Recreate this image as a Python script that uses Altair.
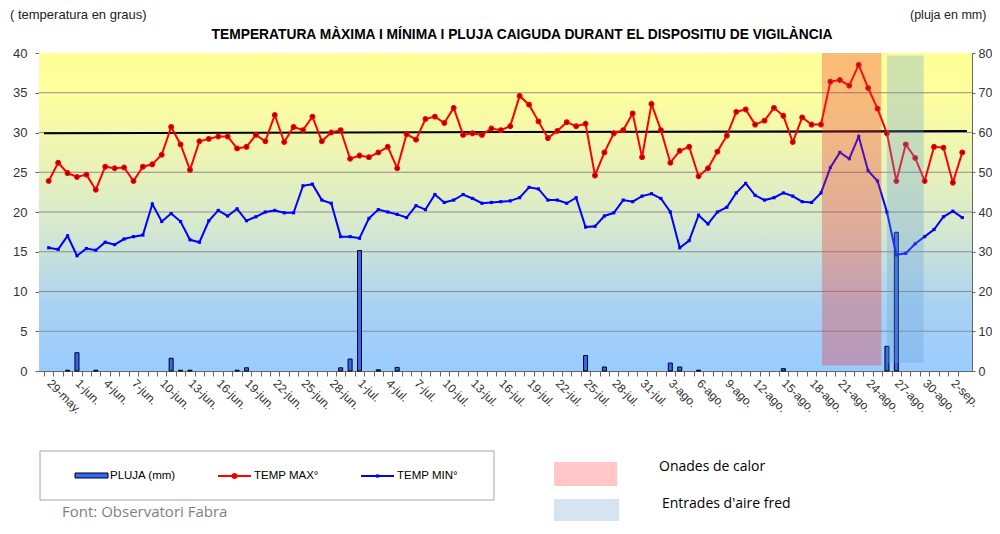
import altair as alt
import pandas as pd

# ---------------- data ----------------
tmax = [23.9, 26.2, 24.9, 24.4, 24.7, 22.8, 25.7, 25.5, 25.6, 23.9,
        25.7, 26.0, 27.2, 30.7, 28.5, 25.3, 28.9, 29.2, 29.5, 29.5,
        28.0, 28.2, 29.7, 28.9, 32.2, 28.8, 30.7, 30.3, 32.0, 28.9,
        30.0, 30.3, 26.7, 27.1, 26.9, 27.5, 28.2, 25.5, 29.8, 29.1,
        31.7, 32.0, 31.2, 33.1, 29.7, 29.9, 29.7, 30.5, 30.3, 30.8,
        34.6, 33.5, 31.4, 29.3, 30.2, 31.3, 30.8, 31.1, 24.6, 27.5,
        29.9, 30.3, 32.4, 26.9, 33.6, 30.3, 26.2, 27.7, 28.2, 24.5,
        25.5, 27.6, 29.6, 32.6, 32.9, 31.0, 31.5, 33.1, 32.1, 28.8,
        31.9, 31.0, 31.0, 36.4, 36.6, 35.9, 38.5, 35.6, 33.0, 29.9,
        23.9, 28.5, 26.8, 23.9, 28.2, 28.1, 23.7, 27.5]

tmin = [15.5, 15.3, 17.0, 14.5, 15.4, 15.2, 16.2, 15.9, 16.6, 16.9,
        17.1, 21.0, 18.8, 19.8, 18.8, 16.5, 16.2, 18.9, 20.2, 19.5,
        20.4, 18.9, 19.4, 20.0, 20.2, 19.9, 19.9, 23.3, 23.5, 21.5,
        21.1, 16.9, 16.9, 16.7, 19.2, 20.3, 20.0, 19.7, 19.3, 20.8,
        20.3, 22.2, 21.2, 21.5, 22.2, 21.7, 21.1, 21.2, 21.3, 21.4,
        21.8, 23.1, 22.9, 21.5, 21.5, 21.1, 21.8, 18.1, 18.2, 19.5,
        19.9, 21.5, 21.3, 22.0, 22.3, 21.7, 20.0, 15.5, 16.4, 19.6,
        18.5, 20.0, 20.6, 22.4, 23.6, 22.1, 21.5, 21.8, 22.4, 22.0,
        21.3, 21.2, 22.4, 25.6, 27.5, 26.7, 29.5, 25.2, 23.9, 20.0,
        14.6, 14.8, 16.0, 16.9, 17.8, 19.4, 20.1, 19.3]

rain = [0, 0, 0.2, 4.6, 0, 0.2, 0, 0, 0, 0,
        0, 0, 0, 3.2, 0.2, 0.2, 0, 0, 0, 0,
        0.2, 0.8, 0, 0, 0, 0, 0, 0, 0, 0,
        0, 0.8, 3.0, 30.3, 0, 0.3, 0, 0.9, 0, 0,
        0, 0, 0, 0, 0, 0, 0, 0, 0, 0,
        0, 0, 0, 0, 0, 0, 0, 3.9, 0, 1.0,
        0, 0, 0, 0, 0, 0, 2.0, 1.0, 0, 0.2,
        0, 0, 0, 0, 0, 0, 0, 0, 0.6, 0,
        0, 0, 0, 0, 0, 0, 0, 0, 0, 6.2,
        34.9, 0, 0, 0, 0, 0, 0, 0]

tick_labels = ["29-may.", "1-jun.", "4-jun.", "7-jun.", "10-jun.", "13-jun.",
               "16-jun.", "19-jun.", "22-jun.", "25-jun.", "28-jun.", "1-jul.",
               "4-jul.", "7-jul.", "10-jul.", "13-jul.", "16-jul.", "19-jul.",
               "22-jul.", "25-jul.", "28-jul.", "31-jul.", "3-ago.", "6-ago.",
               "9-ago.", "12-ago.", "15-ago.", "18-ago.", "21-ago.", "24-ago.",
               "27-ago.", "30-ago.", "2-sep."]

temp_ticks = [0, 5, 10, 15, 20, 25, 30, 35, 40]
rain_ticks = [0, 10, 20, 30, 40, 50, 60, 70, 80]
grid_values = [5, 10, 15, 20, 25, 30, 35]
ref_line = [29.9, 30.2]               # black reference line, start / end
heat_wave = [82.1, 88.4, 0.7, 40.0]   # day start, day end, temp low, temp high
cold_air = [89.0, 92.9, 1.0, 39.7]

# ---------------- layout ----------------
W, H = 933, 318
n = len(tmax)
half = W / n / 2
FONT = "Liberation Sans"

df = pd.DataFrame({"d": list(range(n)), "tmax": tmax, "tmin": tmin, "rain": rain})
rain_df = df[df["rain"] > 0]

xs = alt.Scale(domain=[-0.5, n - 0.5], nice=False, zero=False)
ts = alt.Scale(domain=[0, 40], nice=False)
rs = alt.Scale(domain=[0, 80], nice=False)

label_arr = "[" + ",".join("'" + s + "'" for s in tick_labels) + "]"
x_axis = alt.Axis(
    values=list(range(n)), tickOffset=-half, labelOffset=half,
    labelExpr=f"datum.value % 3 === 0 ? {label_arr}[datum.value / 3] : ''",
    labelAngle=45, labelAlign="left", labelBaseline="middle",
    labelPadding=5, labelFlush=False, labelOverlap=False,
    labelFont=FONT, labelFontSize=12, labelColor="#333333",
    tickSize=5, tickColor="#666666", domainColor="#666666",
    grid=False, title=None)

left_axis = alt.Axis(values=temp_ticks, orient="left", title=None, grid=False,
                     labelFont=FONT, labelFontSize=13, labelColor="#333333",
                     tickSize=4, tickColor="#666666", domainColor="#666666",
                     labelPadding=8)
right_axis = alt.Axis(values=rain_ticks, orient="right", title=None, grid=False,
                      labelFont=FONT, labelFontSize=12.5, labelColor="#333333",
                      tickSize=3, tickColor="#666666", domainColor="#666666",
                      labelPadding=3)


def X(field):
    return alt.X(field, type="quantitative", scale=xs, axis=x_axis)


def one():
    return alt.Chart(alt.Data(values=[{"a": 1}]))


def txt(text, x, y, size=12, align="left", baseline="middle", **kw):
    return one().mark_text(text=text, align=align, baseline=baseline,
                           fontSize=size, **kw).encode(x=alt.value(x), y=alt.value(y))


def box(x1, x2, y1, y2, **kw):
    return one().mark_rect(**kw).encode(x=alt.value(x1), x2=alt.value(x2),
                                        y=alt.value(y1), y2=alt.value(y2))


gradient = alt.LinearGradient(
    gradient="linear", x1=0, x2=0, y1=0, y2=1,
    stops=[alt.GradientStop(offset=0, color="#ffff99"),
           alt.GradientStop(offset=0.12, color="#ffff9c"),
           alt.GradientStop(offset=0.55, color="#d6e8cf"),
           alt.GradientStop(offset=0.8, color="#a8d2f4"),
           alt.GradientStop(offset=1, color="#99ccff")])

bg = box(0, W, 0, H, fill=gradient)

grid = alt.Chart(pd.DataFrame({"t": grid_values})).mark_rule(
    color="#8c8c8c", strokeWidth=1).encode(
    y=alt.Y("t:Q", scale=ts, axis=None), x=alt.value(0), x2=alt.value(W))

ref = alt.Chart(pd.DataFrame({"d": [-0.5, n - 0.5], "t": ref_line})).mark_line(
    color="#000000", strokeWidth=2).encode(
    x=X("d"), y=alt.Y("t:Q", scale=ts, axis=None))

bars = alt.Chart(rain_df).mark_bar(width=4, fill="#3366ff", stroke="#000000",
                                   strokeWidth=1).encode(
    x=X("d"), y=alt.Y("rain:Q", scale=rs, axis=right_axis))

red_line = alt.Chart(df).mark_line(color="#ff0000", strokeWidth=2).encode(
    x=X("d"), y=alt.Y("tmax:Q", scale=ts, axis=left_axis))
red_pts = alt.Chart(df).mark_point(filled=True, fill="#9a0000", stroke="#ff0000",
                                   strokeWidth=1.2, size=22, opacity=1).encode(
    x=X("d"), y=alt.Y("tmax:Q", scale=ts, axis=None))
blue_line = alt.Chart(df).mark_line(color="#0000ff", strokeWidth=2).encode(
    x=X("d"), y=alt.Y("tmin:Q", scale=ts, axis=None))
blue_pts = alt.Chart(df).mark_point(filled=True, shape="square", color="#0000ff",
                                    size=10, opacity=1).encode(
    x=X("d"), y=alt.Y("tmin:Q", scale=ts, axis=None))


def band(vals, color, op):
    d = pd.DataFrame({"x1": [vals[0]], "x2": [vals[1]], "y1": [vals[2]], "y2": [vals[3]]})
    return alt.Chart(d).mark_rect(fill=color, opacity=op).encode(
        x=X("x1"), x2="x2:Q",
        y=alt.Y("y1:Q", scale=ts, axis=None), y2="y2:Q")


heat = band(heat_wave, "#ee3030", 0.32)
cold = band(cold_air, "#649fdc", 0.3)

# ---------------- texts & manual legend ----------------
title = txt("TEMPERATURA  MÀXIMA  I MÍNIMA  I  PLUJA  CAIGUDA  DURANT  EL  DISPOSITIU  DE  VIGILÀNCIA",
            483, -18, size=13.8, align="center", font=FONT, fontWeight="bold", color="#000000")
ylab_l = txt("( temperatura  en  graus)", -29, -38, size=13, font=FONT, color="#222222")
ylab_r = txt("(pluja en mm)", 871, -38, size=12.5, font=FONT, color="#222222")

LY = 423
leg_box = box(1, 455, 398, 447, fill="#ffffff", stroke="#a6a6a6", strokeWidth=1)
leg_bar = box(36, 69, LY - 3, LY + 2, fill="#3366ff", stroke="#000000", strokeWidth=1)
leg_bar_t = txt("PLUJA (mm)", 71, LY, size=11.5, font=FONT, color="#000000")
leg_red = one().mark_rule(color="#ff0000", strokeWidth=2).encode(
    x=alt.value(179), x2=alt.value(212), y=alt.value(LY))
leg_red_p = one().mark_point(filled=True, fill="#9a0000", stroke="#ff0000", size=16,
                             opacity=1).encode(x=alt.value(195.5), y=alt.value(LY))
leg_red_t = txt("TEMP MAX°", 215, LY, size=11.5, font=FONT, color="#000000")
leg_blue = one().mark_rule(color="#0000ff", strokeWidth=2).encode(
    x=alt.value(322), x2=alt.value(355), y=alt.value(LY))
leg_blue_p = one().mark_point(filled=True, shape="square", color="#0000ff", size=10,
                              opacity=1).encode(x=alt.value(338.5), y=alt.value(LY))
leg_blue_t = txt("TEMP MIN°", 358, LY, size=11.5, font=FONT, color="#000000")
source = txt("Font: Observatori Fabra", 23, 467, size=15, baseline="bottom",
             font="Open Sans", color="#7f7f7f")

sw_heat = box(515, 578, 409, 433, fill="#ffc7c7")
sw_heat_t = txt("Onades de calor", 620, 414, size=14, font="Open Sans", color="#000000")
sw_cold = box(515, 580, 446, 472, fill="#d6e4f2")
sw_cold_t = txt("Entrades d'aire fred", 623, 451, size=14, font="Open Sans", color="#000000")

chart = alt.layer(
    bg, grid, ref, bars, red_line, red_pts, blue_line, blue_pts, heat, cold,
    title, ylab_l, ylab_r,
    leg_box, leg_bar, leg_bar_t, leg_red, leg_red_p, leg_red_t,
    leg_blue, leg_blue_p, leg_blue_t, source,
    sw_heat, sw_heat_t, sw_cold, sw_cold_t,
).resolve_scale(y="independent").properties(
    width=W, height=H,
    autosize=alt.AutoSizeParams(type="none"),
    padding={"left": 31, "top": 45, "right": 20, "bottom": 150},
    background="#ffffff",
).configure_view(stroke="#7f7f7f", strokeWidth=1)

chart.save("out.html", embed_options={"renderer": "svg", "actions": False})
